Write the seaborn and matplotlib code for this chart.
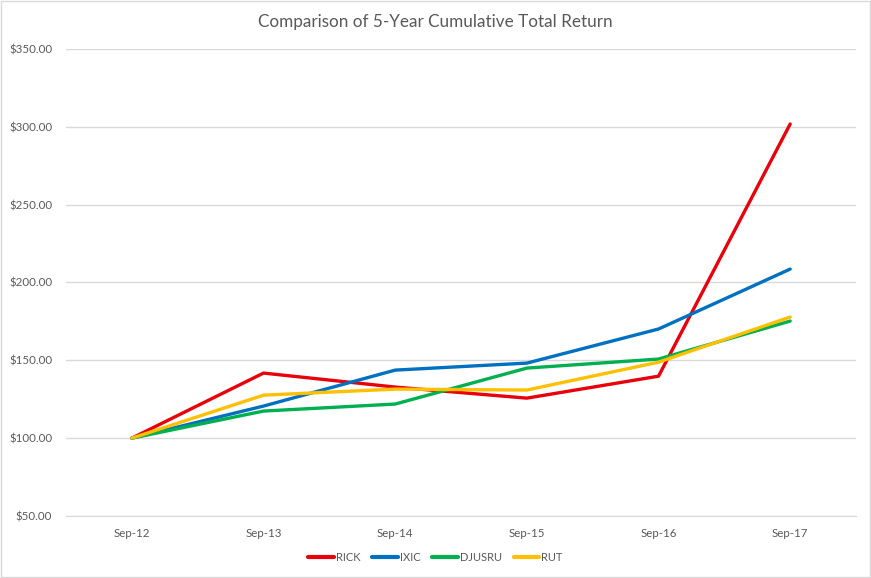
import pandas as pd
import matplotlib.pyplot as plt
import seaborn as sns
from matplotlib.ticker import FuncFormatter, FixedLocator

# Data
periods = ['Sep-12', 'Sep-13', 'Sep-14', 'Sep-15', 'Sep-16', 'Sep-17']
rick = [100.0, 141.8, 132.8, 125.7, 139.8, 301.8]
ixic = [100.0, 120.6, 143.7, 148.2, 170.1, 208.6]
djusru = [100.0, 117.4, 121.9, 145.0, 150.8, 175.2]
rut = [100.0, 127.6, 131.5, 130.9, 148.8, 177.8]

series = {'RICK': rick, 'IXIC': ixic, 'DJUSRU': djusru, 'RUT': rut}
colors = {'RICK': '#E8000B', 'IXIC': '#0070C0', 'DJUSRU': '#00B050', 'RUT': '#FFC000'}

# long format for seaborn
rows = []
for name, vals in series.items():
    for i, v in enumerate(vals):
        rows.append({'idx': i, 'value': v, 'series': name})
df = pd.DataFrame(rows)

sns.set_style('white')
plt.rcParams['font.family'] = ['Lato', 'DejaVu Sans']

fig = plt.figure(figsize=(8.71, 5.78), dpi=100)
ax = fig.add_axes([0.0758, 0.1073, 0.907, 0.808])

sns.lineplot(data=df, x='idx', y='value', hue='series', palette=colors,
             linewidth=2.4, ax=ax, legend=False)

ax.set_xlim(-0.5, 5.5)
ax.set_ylim(50, 350)
ax.set_yticks(range(50, 351, 50))
ax.yaxis.set_major_formatter(FuncFormatter(lambda v, p: f'${v:,.2f}'))
ax.set_xticks(range(len(periods)))
ax.set_xticklabels(periods)
ax.xaxis.set_minor_locator(FixedLocator([i - 0.5 for i in range(len(periods) + 1)]))

ax.grid(axis='y', color='#d9d9d9', linewidth=1)
ax.set_axisbelow(True)
for s in ['top', 'right', 'left']:
    ax.spines[s].set_visible(False)
ax.spines['bottom'].set_color('#d9d9d9')
ax.tick_params(axis='x', which='major', length=0, pad=9, labelsize=8.3, colors='#595959')
ax.tick_params(axis='x', which='minor', length=4, color='#d9d9d9', direction='out')
ax.tick_params(axis='y', length=0, pad=10, labelsize=8.3, colors='#595959')
ax.set_xlabel('')
ax.set_ylabel('')

fig.suptitle('Comparison of 5-Year Cumulative Total Return', y=0.975,
             fontsize=12.3, color='#595959')

handles = [plt.Line2D([], [], color=colors[n], linewidth=3) for n in series]
fig.legend(handles, list(series), loc='center', bbox_to_anchor=(0.5, 0.036),
           ncol=4, frameon=False, fontsize=8, handlelength=2.3,
           handletextpad=0.15, columnspacing=1.1, labelcolor='#595959')

# light chart border
fig.patches.append(plt.Rectangle((0.001, 0.001), 0.998, 0.998, transform=fig.transFigure,
                                 fill=False, edgecolor='#d9d9d9', linewidth=1))

fig.savefig('out.png', dpi=100)
